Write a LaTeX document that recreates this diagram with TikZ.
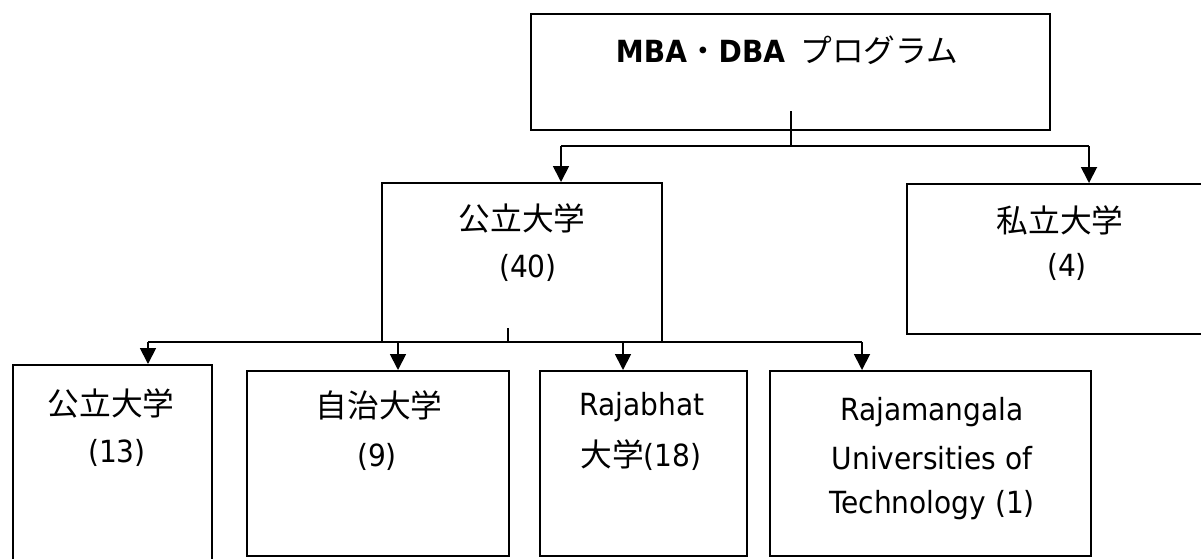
\documentclass[tikz,border=0pt]{standalone}
\usepackage{fontspec}
\setmainfont{DejaVu Sans}[FakeStretch=0.92]
\newfontfamily\cjk{Noto Sans CJK JP}[Scale=1.04]
\usetikzlibrary{arrows.meta}
\begin{document}
\begin{tikzpicture}[x=1pt,y=-1pt,
  box/.style={draw, line width=1.8pt, rectangle, inner sep=0pt, anchor=north west},
  conn/.style={line width=1.8pt},
  arr/.style={conn, -{Triangle[length=16pt,width=16pt]}},
  txt/.style={inner sep=0pt, font=\fontsize{30.5}{36}\selectfont}]
\useasboundingbox (0,0) rectangle (1201,558);
\fill[white] (0,0) rectangle (1201,558);

% boxes
\node[box, minimum width=519pt, minimum height=116pt] (top) at (530,13) {};
\node[box, minimum width=280pt, minimum height=159pt] (pub) at (381,182) {};
\node[box, minimum width=330pt, minimum height=150pt] (priv) at (906,183) {};
\node[box, minimum width=199pt, minimum height=215pt] (b1) at (12,364) {};
\node[box, minimum width=262pt, minimum height=185pt] (b2) at (246,370) {};
\node[box, minimum width=207pt, minimum height=185pt] (b3) at (539,370) {};
\node[box, minimum width=321pt, minimum height=185pt] (b4) at (769,370) {};

% top connectors
\coordinate (tk) at (791,111);
\coordinate (tj) at (791,146);
\coordinate (tl) at (561,146);
\coordinate (tr) at (1089,146);
\draw[conn] (tk) -- (tj);
\draw[conn] (tl) -- (tr);
\draw[arr] (tl) -- (tl |- pub.north);
\draw[arr] (tr) -- (tr |- priv.north);

% bottom connectors
\coordinate (bk) at (508,328);
\coordinate (bj) at (508,342);
\coordinate (bl) at (148,342);
\coordinate (br) at (862,342);
\coordinate (a2) at (398,342);
\coordinate (a3) at (623,342);
\draw[conn] (bk) -- (bj);
\draw[conn] (bl) -- (br);
\draw[arr] (bl) -- (bl |- b1.north);
\draw[arr] (a2) -- (a2 |- b2.north);
\draw[arr] (a3) -- (a3 |- b3.north);
\draw[arr] (br) -- (br |- b4.north);

% texts
\node[txt] (ttl) at (787,50) {\textbf{MBA}{\cjk ・}\textbf{DBA}\hspace{0.5em}{\cjk プログラム}};
\node[txt] (pub1) at (522,218) {\cjk 公立大学};
\node[txt] (pub2) at (528,268) {(40)};
\node[txt] (priv1) at (1060,220) {\cjk 私立大学};
\node[txt] (priv2) at (1067,267) {(4)};
\node[txt] (b1a) at (111,403) {\cjk 公立大学};
\node[txt] (b1b) at (117,453) {(13)};
\node[txt] (b2a) at (379,405) {\cjk 自治大学};
\node[txt] (b2b) at (377,457) {(9)};
\node[txt] (b3a) at (642,407) {Rajabhat};
\node[txt] (b3b) at (641,455) {{\cjk 大学}(18)};
\node[txt] (b4a) at (932,412) {Rajamangala};
\node[txt] (b4b) at (932,458) {Universities of};
\node[txt] (b4c) at (932,505) {Technology (1)};
\end{tikzpicture}
\end{document}
